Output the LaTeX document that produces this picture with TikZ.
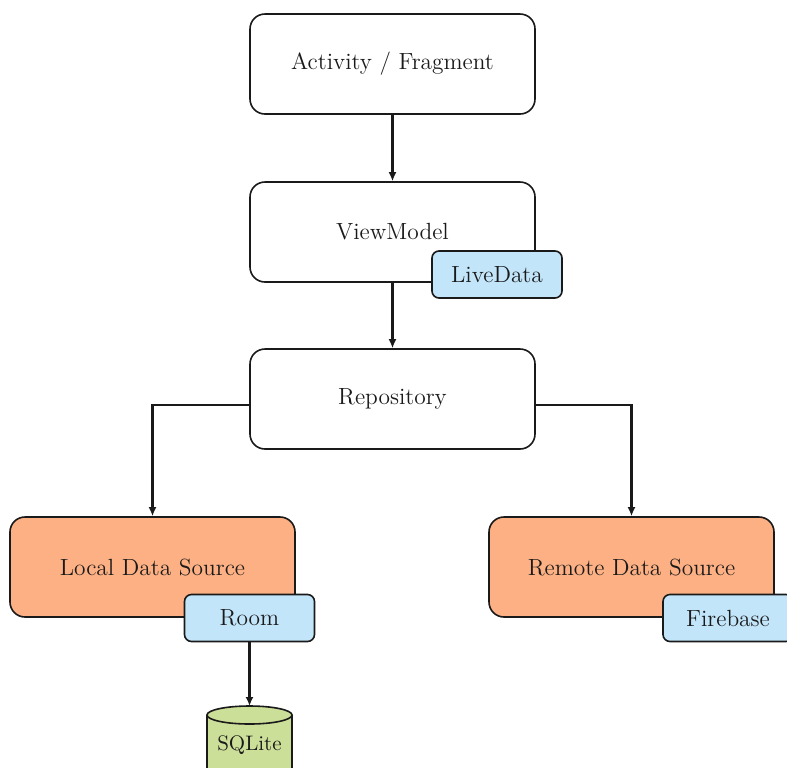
\documentclass[tikz,border=0pt]{standalone}
\usetikzlibrary{arrows.meta}
\definecolor{srcorange}{HTML}{FDB083}
\definecolor{tagblue}{HTML}{C3E5FA}
\definecolor{dbgreen}{HTML}{CCDF99}
\definecolor{ink}{HTML}{1A1A1A}
\begin{document}
\begin{tikzpicture}[x=0.5pt,y=-0.5pt,
  every node/.style={text=ink},
  layer/.style={draw=ink,line width=0.8pt,rounded corners=7.5pt,
    minimum width=142.5pt,minimum height=50pt,inner sep=0pt,
    font=\fontsize{11.7}{14}\selectfont},
  tag/.style={draw=ink,line width=0.8pt,rounded corners=3.5pt,fill=tagblue,
    minimum width=65pt,minimum height=23.5pt,inner sep=0pt,
    font=\fontsize{11.7}{14}\selectfont},
  flow/.style={draw=ink,line width=1.05pt,-{Latex[length=4.5pt,width=4pt]}}]
\useasboundingbox (0,0) rectangle (787,767);
\clip (0,0) rectangle (787,767);

% architecture layers
\node[layer,fill=white] (ui)   at (392.5,64)  {Activity / Fragment};
\node[layer,fill=white] (vm)   at (392.5,232) {ViewModel};
\node[layer,fill=white] (repo) at (392.5,399) {Repository};
\node[layer,fill=srcorange] (local)  at (152.5,567) {Local Data Source};
\node[layer,fill=srcorange] (remote) at (631.5,567) {Remote Data Source};

% library tags
\node[tag] (live) at (497,274.5) {LiveData};
\node[tag] (room) at (249.5,618) {Room};
\node[tag] (fire) at (728,618)   {Firebase};

% database cylinder
\coordinate (dbtop) at (249.5,706);
\filldraw[draw=ink,fill=dbgreen,line width=0.8pt]
  (207,715) -- (207,790) arc[start angle=180,end angle=360,x radius=42.5,y radius=9]
  -- (292,715) arc[start angle=0,end angle=-180,x radius=42.5,y radius=9] -- cycle;
\draw[draw=ink,line width=0.8pt] (207,715) arc[start angle=180,end angle=0,x radius=42.5,y radius=9];
\node[font=\fontsize{10.5}{12}\selectfont] (sqlite) at (249.5,745) {SQLite};

% connectors
\draw[flow] (ui.south) -- (vm.north);
\draw[flow] (vm.south) -- (repo.north);
\draw[flow] ([yshift=-3pt]repo.west) -| (local.north);
\draw[flow] ([yshift=-3pt]repo.east) -| (remote.north);
\draw[flow] (room.south) -- (dbtop);
\end{tikzpicture}
\end{document}
